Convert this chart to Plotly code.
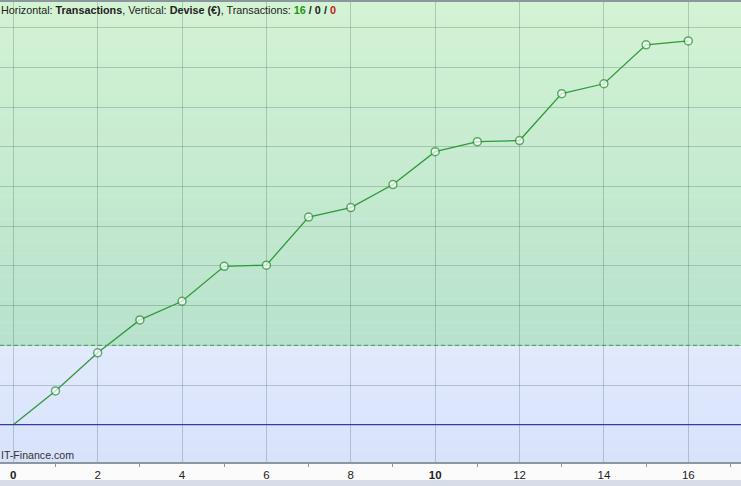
import plotly.graph_objects as go
import numpy as np

# ---- data ----
transactions = list(range(0, 17))
balance_eur = [0, 85, 181, 264, 311, 399, 402, 523, 547, 605, 688, 713, 716, 834, 859, 957, 967]
threshold_eur = 200
x_tick_vals = [0, 2, 4, 6, 8, 10, 12, 14, 16]
x_tick_text = ["<b>0</b>", "2", "4", "6", "8", "<b>10</b>", "12", "14", "16"]
count_win, count_flat, count_loss = 16, 0, 0

X_RANGE = [-0.315, 17.25]
Y_RANGE = [-94, 1065]

fig = go.Figure()

def lerp(c1, c2, t):
    return "rgb(%d,%d,%d)" % tuple(round(a + (b - a) * t) for a, b in zip(c1, c2))

shapes = []
# green gradient band above threshold
n = 30
edges = np.linspace(threshold_eur, Y_RANGE[1], n + 1)
top_g, bot_g = (211, 243, 211), (184, 226, 204)
for i in range(n):
    t = 1 - (i + 0.5) / n
    shapes.append(dict(type="rect", xref="paper", yref="y", x0=0, x1=1,
                       y0=edges[i], y1=edges[i + 1], line=dict(width=0),
                       fillcolor=lerp(top_g, bot_g, t), layer="below"))
# blue gradient below threshold
n2 = 10
edges2 = np.linspace(Y_RANGE[0], threshold_eur, n2 + 1)
top_b, bot_b = (225, 233, 253), (216, 227, 251)
for i in range(n2):
    t = 1 - (i + 0.5) / n2
    shapes.append(dict(type="rect", xref="paper", yref="y", x0=0, x1=1,
                       y0=edges2[i], y1=edges2[i + 1], line=dict(width=0),
                       fillcolor=lerp(top_b, bot_b, t), layer="below"))
# threshold dashed line
shapes.append(dict(type="line", xref="paper", yref="y", x0=0, x1=1,
                   y0=threshold_eur, y1=threshold_eur,
                   line=dict(color="#48ac58", width=1.2, dash="4px,3px"), layer="above"))
# zero line
shapes.append(dict(type="line", xref="paper", yref="y", x0=0, x1=1, y0=0, y1=0,
                   line=dict(color="#3a3aa2", width=1.2), layer="above"))
# bottom strip
shapes.append(dict(type="rect", xref="paper", yref="paper", x0=0, x1=1,
                   y0=-0.06, y1=-0.039, line=dict(width=0),
                   fillcolor="#d6dde8", layer="below"))

marker_sizes = [0] + [8] * (len(transactions) - 1)

fig.add_trace(go.Scatter(
    x=transactions, y=balance_eur, mode="lines+markers",
    line=dict(color="#2f9a3a", width=1.3),
    marker=dict(symbol="circle", size=marker_sizes, color="white",
                line=dict(color="#2a9236", width=1.5)),
    hoverinfo="skip", showlegend=False))

title_text = ("Horizontal: <b>Transactions</b>, Vertical: <b>Devise (€)</b>, Transactions: "
              f"<b><span style='color:#1a9a1a'>{count_win}</span> / {count_flat} / "
              f"<span style='color:#c01818'>{count_loss}</span></b>")

fig.update_layout(
    width=741, height=486,
    margin=dict(l=0, r=0, t=0, b=24),
    paper_bgcolor="#fbfbfb",
    plot_bgcolor="#dde6fb",
    shapes=shapes,
    font=dict(family="Liberation Sans, Arial, sans-serif", size=11, color="#222222"),
    xaxis=dict(range=X_RANGE, tickvals=x_tick_vals, ticktext=x_tick_text,
               showgrid=True, gridcolor="rgba(40,70,80,0.24)", gridwidth=1,
               zeroline=False, showline=True, mirror=True, linecolor="#8a979e",
               linewidth=1.5, ticks="", ticklabelstandoff=1,
               tickfont=dict(size=11.5, color="#222222"),
               minor=dict(tickvals=[1, 3, 5, 7, 9, 11, 13, 15, 17], ticks="outside",
                          ticklen=3, tickcolor="#8a979e", showgrid=False),
               fixedrange=True),
    yaxis=dict(range=Y_RANGE, dtick=100, tick0=0, showticklabels=False,
               showgrid=True, gridcolor="rgba(40,70,80,0.24)", gridwidth=1,
               zeroline=False, showline=False, ticks="", fixedrange=True),
    annotations=[
        dict(text=title_text, xref="paper", yref="paper", x=0.0, y=1.0,
             xanchor="left", yanchor="top", xshift=-1, yshift=0, showarrow=False,
             font=dict(size=10.8, color="#222222")),
        dict(text="IT-Finance.com", xref="paper", yref="paper", x=0.0, y=0.0,
             xanchor="left", yanchor="bottom", xshift=-1, yshift=-1, showarrow=False,
             font=dict(size=10.6, color="#333333")),
    ],
)

fig.write_html("out.html", config={"displayModeBar": False},
               post_script="document.body.style.margin='0';document.body.style.overflow='hidden';")
